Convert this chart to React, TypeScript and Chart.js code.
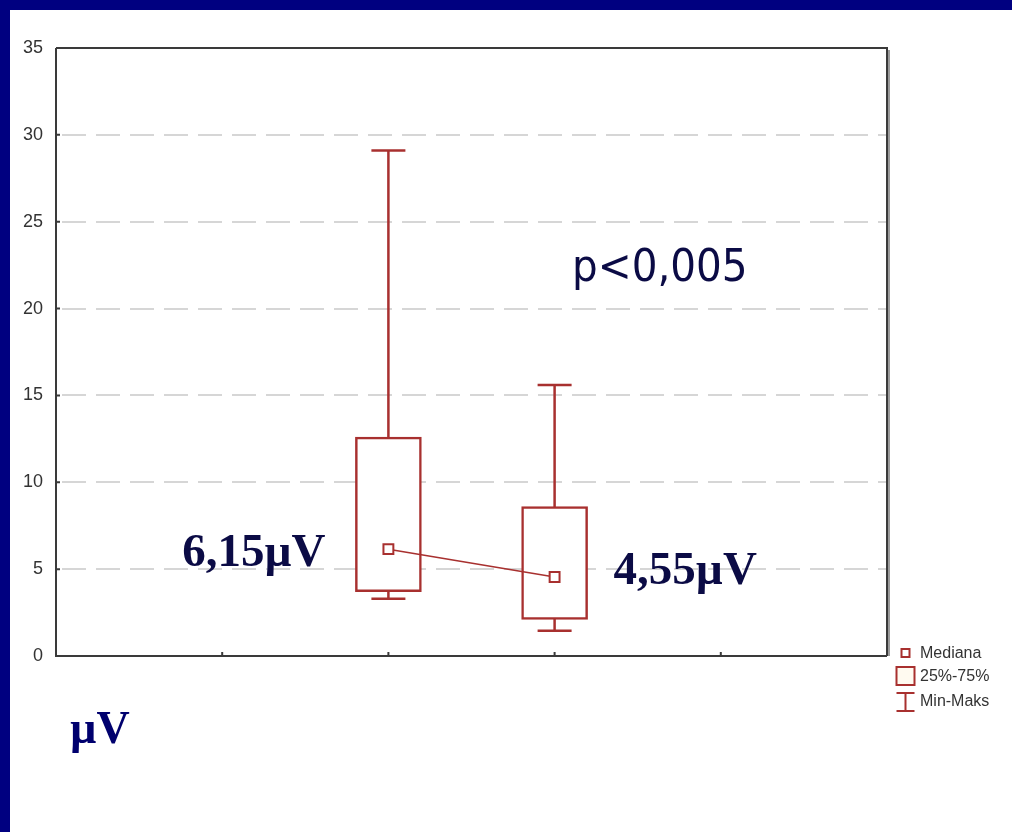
import React, { useEffect, useRef } from "react";
import { Chart, registerables } from "chart.js";

Chart.register(...registerables);

// ---- data ----
const groupPositions = [2, 3];
const minValues = [3.3, 1.45];
const q1Values = [3.7, 2.1];
const medianValues = [6.15, 4.55];
const q3Values = [12.6, 8.6];
const maxValues = [29.1, 15.6];
const medianLabels = ["6,15µV", "4,55µV"];
const yTicks = [0, 5, 10, 15, 20, 25, 30, 35];
const xTickPositions = [1, 2, 3, 4];
const legendLabels = ["Mediana", "25%-75%", "Min-Maks"];
const pValueText = "p<0,005";
const unitText = "µV";

const RED = "#a8302f";
const NAVY_TEXT = "#0b0b45";

const decorPlugin = {
  id: "decor",
  beforeDraw(chart: any) {
    const { ctx, width, height } = chart;
    ctx.save();
    ctx.fillStyle = "#000080";
    ctx.fillRect(0, 0, width, height);
    ctx.fillStyle = "#ffffff";
    ctx.fillRect(10, 10, width - 10, height - 10);
    ctx.restore();
  },
  afterDraw(chart: any) {
    const { ctx, chartArea } = chart;
    const { left, top, right, bottom } = chartArea;
    const xs = chart.scales.x;
    const ys = chart.scales.y;
    ctx.save();
    // frame
    ctx.strokeStyle = "#3a3a3a";
    ctx.lineWidth = 2;
    ctx.beginPath();
    ctx.moveTo(left, top);
    ctx.lineTo(left, bottom);
    ctx.lineTo(right, bottom);
    ctx.moveTo(left, top);
    ctx.lineTo(right, top);
    ctx.lineTo(right, bottom);
    ctx.stroke();
    ctx.strokeStyle = "#9a9a9a";
    ctx.lineWidth = 2;
    ctx.beginPath();
    ctx.moveTo(right + 2, top + 2);
    ctx.lineTo(right + 2, bottom);
    ctx.stroke();
    // y ticks (inside)
    ctx.strokeStyle = "#3a3a3a";
    ctx.lineWidth = 2;
    ctx.beginPath();
    yTicks.forEach((v) => {
      const y = ys.getPixelForValue(v);
      ctx.moveTo(left, y);
      ctx.lineTo(left + 4, y);
    });
    xTickPositions.forEach((v) => {
      const x = xs.getPixelForValue(v);
      ctx.moveTo(x, bottom);
      ctx.lineTo(x, bottom - 4);
    });
    ctx.stroke();

    // p-value text
    ctx.fillStyle = NAVY_TEXT;
    ctx.textBaseline = "alphabetic";
    ctx.textAlign = "left";
    ctx.save();
    ctx.translate(572, 281);
    ctx.scale(0.9, 1);
    ctx.font = "45px 'DejaVu Sans'";
    ctx.fillText(pValueText, 0, 0);
    ctx.restore();

    // median labels
    ctx.font = "bold 47px 'Liberation Serif'";
    ctx.fillStyle = NAVY_TEXT;
    const lx0 = xs.getPixelForValue(groupPositions[0]);
    const lx1 = xs.getPixelForValue(groupPositions[1]);
    ctx.textAlign = "right";
    ctx.fillText(medianLabels[0], lx0 - 63, ys.getPixelForValue(medianValues[0]) + 17);
    ctx.textAlign = "left";
    ctx.fillText(medianLabels[1], lx1 + 59, ys.getPixelForValue(medianValues[1]) + 7);

    // unit
    ctx.fillStyle = "#00006e";
    ctx.font = "bold 46px 'Liberation Serif'";
    ctx.fillText(unitText, 70, 743);

    // legend
    const lx = 905.5;
    ctx.strokeStyle = RED;
    ctx.lineWidth = 2;
    ctx.fillStyle = "#ffffff";
    ctx.fillRect(lx - 4, 649, 8, 8);
    ctx.strokeRect(lx - 4, 649, 8, 8);
    ctx.fillStyle = "#fffaf0";
    ctx.fillRect(lx - 9, 667, 18, 18);
    ctx.strokeRect(lx - 9, 667, 18, 18);
    ctx.beginPath();
    ctx.moveTo(lx - 9, 693);
    ctx.lineTo(lx + 9, 693);
    ctx.moveTo(lx, 693);
    ctx.lineTo(lx, 711);
    ctx.moveTo(lx - 9, 711);
    ctx.lineTo(lx + 9, 711);
    ctx.stroke();
    ctx.fillStyle = "#333333";
    ctx.font = "16px 'Liberation Sans'";
    ctx.textAlign = "left";
    ctx.textBaseline = "middle";
    ctx.fillText(legendLabels[0], 920, 654);
    ctx.fillText(legendLabels[1], 920, 677);
    ctx.fillText(legendLabels[2], 920, 702);
    ctx.restore();
  },
};

export default function App() {
  const canvasRef = useRef<HTMLCanvasElement | null>(null);

  useEffect(() => {
    if (!canvasRef.current) return;
    const whiskerSets = groupPositions.map((x, i) => ({
      type: "line" as const,
      data: [
        { x, y: minValues[i] },
        { x, y: maxValues[i] },
      ],
      borderColor: RED,
      borderWidth: 2.5,
      pointRadius: 0,
      order: 4,
    }));
    const chart = new Chart(canvasRef.current, {
      type: "bar",
      data: {
        datasets: [
          ...whiskerSets,
          {
            type: "bar" as const,
            data: groupPositions.map((x, i) => ({ x, y: [q1Values[i], q3Values[i]] })) as any,
            backgroundColor: "#ffffff",
            borderColor: RED,
            borderWidth: 2.5,
            borderSkipped: false,
            barThickness: 66,
            order: 3,
          },
          {
            type: "line" as const,
            data: [
              ...groupPositions.map((x, i) => ({ x, y: minValues[i] })),
              ...groupPositions.map((x, i) => ({ x, y: maxValues[i] })),
            ],
            showLine: false,
            pointStyle: "line",
            pointRadius: 17,
            pointBorderWidth: 2.5,
            pointBorderColor: RED,
            borderColor: RED,
            order: 2,
          },
          {
            type: "line" as const,
            data: groupPositions.map((x, i) => ({ x, y: medianValues[i] })),
            borderColor: RED,
            borderWidth: 1.5,
            pointStyle: "rect",
            pointRadius: 7,
            pointBorderWidth: 2,
            pointBorderColor: RED,
            pointBackgroundColor: "#ffffff",
            order: 1,
          },
        ] as any,
      },
      options: {
        animation: false,
        responsive: false,
        events: [],
        layout: { padding: { left: 0, top: 48, right: 125, bottom: 176 } },
        plugins: { legend: { display: false }, tooltip: { enabled: false } },
        scales: {
          x: {
            type: "linear",
            min: 0,
            max: 5,
            offset: false,
            ticks: { display: false },
            grid: { display: false, drawTicks: false, offset: false },
            border: { display: false },
            afterFit: (s: any) => {
              s.height = 0;
            },
          },
          y: {
            type: "linear",
            min: 0,
            max: 35,
            ticks: {
              stepSize: 5,
              padding: 13,
              color: "#333333",
              font: { family: "'Liberation Sans', Arial, sans-serif", size: 18 },
            },
            grid: {
              drawTicks: false,
              lineWidth: 2,
              color: (c: any) =>
                c.tick && (c.tick.value === 0 || c.tick.value === 35) ? "rgba(0,0,0,0)" : "#d6d6d6",
            },
            border: { display: false, dash: [24, 10], dashOffset: -6 },
            afterFit: (s: any) => {
              s.width = 56;
            },
          },
        },
      } as any,
      plugins: [decorPlugin],
    });
    return () => chart.destroy();
  }, []);

  return (
    <div style={{ position: "fixed", left: 0, top: 0, width: 1012, height: 832 }}>
      <canvas ref={canvasRef} width={1012} height={832} style={{ width: 1012, height: 832 }} />
    </div>
  );
}
